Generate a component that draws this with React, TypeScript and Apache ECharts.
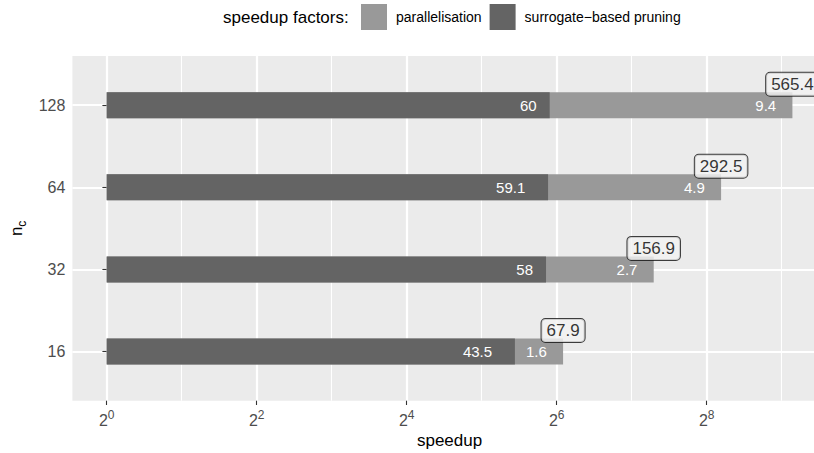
import React, { useEffect, useRef } from 'react';
import * as echarts from 'echarts';

// ---- data ----
const categories = ['16', '32', '64', '128'];
const surrogateFactors = [43.5, 58, 59.1, 60];
const parallelFactors = [1.6, 2.7, 4.9, 9.4];
const totalSpeedups = [67.9, 156.9, 292.5, 565.4];
const majorExponents = [0, 2, 4, 6, 8];
const minorExponents = [1, 3, 5, 7, 9];
const seriesNames = ['parallelisation', 'surrogate\u2212based pruning'];

const FONT = '"Liberation Sans", Arial, Helvetica, sans-serif';

// layout (ggplot-like panel)
const PANEL_LEFT = 72.4;
const PANEL_TOP = 56;
const PANEL_W = 754.3;
const PANEL_H = 344.7;
const DISCRETE_EXPAND = 0.6;

const LIGHT = '#999999';
const DARK = '#646464';

function textWidth(s: string, size: number): number {
  const c = document.createElement('canvas').getContext('2d');
  if (!c) return s.length * size * 0.55;
  c.font = `${size}px "Liberation Sans", Arial, sans-serif`;
  return c.measureText(s).width;
}

export default function App() {
  const ref = useRef<HTMLDivElement>(null);

  useEffect(() => {
    document.body.style.margin = '0';
    if (!ref.current) return;
    const chart = echarts.init(ref.current, undefined, { renderer: 'svg' });

    const maxLog = Math.log2(Math.max(...totalSpeedups));
    const xMin = 0 - 0.05 * maxLog;
    const xMax = maxLog + 0.05 * maxLog;

    const band = PANEL_H / (categories.length - 1 + 2 * DISCRETE_EXPAND);
    const barTop = PANEL_TOP + (DISCRETE_EXPAND - 0.5) * band;
    const barH = categories.length * band;
    const catPositions = categories.map((_, i) => i + 1);

    const labelSize = 15;
    const hShift = 0.78;

    const option: any = {
      animation: false,
      textStyle: { fontFamily: FONT },
      grid: [
        { left: PANEL_LEFT, top: barTop, width: PANEL_W, height: barH, show: false },
        {
          left: PANEL_LEFT, top: PANEL_TOP, width: PANEL_W, height: PANEL_H,
          show: true, backgroundColor: '#EBEBEB', borderWidth: 0,
        },
      ],
      xAxis: [
        { gridIndex: 0, type: 'value', min: xMin, max: xMax, show: false },
        {
          gridIndex: 1, type: 'value', min: xMin, max: xMax, position: 'bottom',
          axisLine: { show: false },
          axisTick: { show: true, customValues: majorExponents, length: 4.3, lineStyle: { color: '#333333', width: 1.1 } },
          axisLabel: {
            customValues: majorExponents,
            margin: 8,
            formatter: (v: number) => `{b|2}{s|${v}}`,
            rich: {
              b: { fontSize: 16, color: '#4D4D4D', fontFamily: FONT },
              s: { fontSize: 12, color: '#4D4D4D', fontFamily: FONT, padding: [0, 0, 12, 0] },
            },
          },
          splitLine: { show: true, lineStyle: { color: '#FFFFFF', width: 2.2 } },
        },
        {
          gridIndex: 1, type: 'value', min: xMin, max: xMax, position: 'top',
          axisLine: { show: false },
          axisTick: { show: false, customValues: minorExponents },
          axisLabel: { show: false, customValues: minorExponents },
          splitLine: { show: true, lineStyle: { color: '#FFFFFF', width: 1.1 } },
        },
      ],
      yAxis: [
        { gridIndex: 0, type: 'category', data: categories, show: false },
        {
          gridIndex: 1, type: 'value',
          min: 1 - DISCRETE_EXPAND, max: categories.length + DISCRETE_EXPAND,
          name: '{n|n}{c|c}',
          nameLocation: 'middle',
          nameRotate: 90,
          nameGap: 44,
          nameTextStyle: {
            rich: {
              n: { fontSize: 17, fontFamily: FONT, color: '#000000' },
              c: { fontSize: 12, fontFamily: FONT, color: '#000000', padding: [10, 0, 0, 0] },
            },
          },
          axisLine: { show: false },
          axisTick: { show: true, customValues: catPositions, length: 4.3, lineStyle: { color: '#333333', width: 1.1 } },
          axisLabel: {
            customValues: catPositions,
            margin: 7,
            fontSize: 16,
            color: '#4D4D4D',
            fontFamily: FONT,
            formatter: (v: number) => categories[Math.round(v) - 1] ?? '',
          },
          splitLine: { show: true, lineStyle: { color: '#FFFFFF', width: 2.2 } },
        },
      ],
      legend: {
        data: seriesNames,
        left: 361, top: 4, padding: 0,
        itemWidth: 26, itemHeight: 26, itemGap: 8,
        icon: 'rect',
        selectedMode: false,
        textStyle: { fontSize: 14, color: '#000000', fontFamily: FONT, padding: [0, 0, 0, 4] },
      },
      series: [
        {
          name: seriesNames[0], type: 'bar', xAxisIndex: 0, yAxisIndex: 0,
          barWidth: 26, barGap: '-100%',
          itemStyle: { color: LIGHT },
          data: totalSpeedups.map((t, i) => ({
            value: Math.log2(t),
            label: { distance: hShift * textWidth(String(parallelFactors[i]), labelSize) },
          })),
          label: {
            show: true, position: 'insideRight', color: '#FFFFFF', fontSize: labelSize, fontFamily: FONT,
            formatter: (p: any) => String(parallelFactors[p.dataIndex]),
          },
          z: 2,
        },
        {
          name: seriesNames[1], type: 'bar', xAxisIndex: 0, yAxisIndex: 0,
          barWidth: 26, barGap: '-100%',
          itemStyle: { color: DARK },
          data: surrogateFactors.map((s) => ({
            value: Math.log2(s),
            label: { distance: hShift * textWidth(String(s), labelSize) },
          })),
          label: {
            show: true, position: 'insideRight', color: '#FFFFFF', fontSize: labelSize, fontFamily: FONT,
            formatter: (p: any) => String(surrogateFactors[p.dataIndex]),
          },
          z: 3,
        },
        {
          name: 'total', type: 'scatter', xAxisIndex: 0, yAxisIndex: 0,
          symbolSize: 0, clip: false, z: 5,
          data: totalSpeedups.map((t, i) => [Math.log2(t), i]),
          label: {
            show: true, position: 'inside', offset: [0, -21],
            formatter: (p: any) => totalSpeedups[p.dataIndex].toFixed(1),
            fontSize: 17, lineHeight: 17, color: '#000000', fontFamily: FONT,
            backgroundColor: '#F2F2F2', borderColor: '#111111', borderWidth: 1, borderRadius: 4,
            padding: [3, 5],
          },
        },
      ],
      graphic: [
        {
          type: 'text', x: 223, y: 17,
          style: { text: 'speedup factors:', fontSize: 17, fontFamily: FONT, fill: '#000000', align: 'left', verticalAlign: 'middle' },
        },
        {
          type: 'text', x: PANEL_LEFT + PANEL_W / 2, y: 440,
          style: { text: 'speedup', fontSize: 17, fontFamily: FONT, fill: '#000000', align: 'center', verticalAlign: 'middle' },
        },
      ],
    };

    chart.setOption(option);
    return () => chart.dispose();
  }, []);

  return (
    <div style={{ width: 814, height: 453, overflow: 'hidden', position: 'relative' }}>
      <div ref={ref} style={{ width: 840, height: 453 }} />
    </div>
  );
}
